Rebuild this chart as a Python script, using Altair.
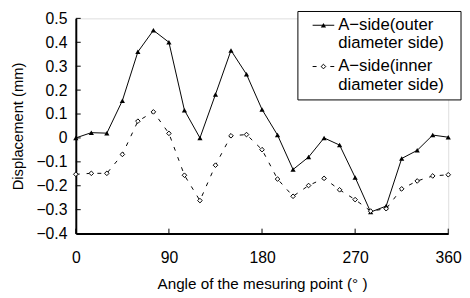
import altair as alt
import pandas as pd

angles = list(range(0, 361, 15))
outer = [0.0, 0.022, 0.02, 0.156, 0.36, 0.45, 0.40, 0.116, 0.0, 0.182, 0.366, 0.266, 0.119,
         0.012, -0.132, -0.08, 0.0, -0.03, -0.165, -0.31, -0.285, -0.086, -0.052, 0.012, 0.003]
inner = [-0.152, -0.148, -0.148, -0.069, 0.07, 0.109, 0.019, -0.156, -0.262, -0.114, 0.009, 0.014,
         -0.049, -0.172, -0.244, -0.199, -0.169, -0.217, -0.258, -0.306, -0.296, -0.213, -0.18, -0.159, -0.154]
x_ticks = [0, 90, 180, 270, 360]
y_ticks = [-0.4, -0.3, -0.2, -0.1, 0, 0.1, 0.2, 0.3, 0.4, 0.5]
series_names = ["A−side(outer\ndiameter side)", "A−side(inner\ndiameter side)"]

FONT = "Liberation Sans"
W, H = 379, 219

df = pd.DataFrame({"angle": angles, "outer": outer, "inner": inner})
xdf = pd.DataFrame({"t": x_ticks})
ydf = pd.DataFrame({"t": y_ticks})
one = pd.DataFrame({"k": [0]})

xs = alt.Scale(domain=[0, 360], nice=False, zero=False)
ys = alt.Scale(domain=[-0.4, 0.5], nice=False, zero=False)

xaxis = alt.Axis(values=x_ticks, grid=False, ticks=False, domainWidth=2, domainColor="black",
                 labelFont=FONT, labelFontSize=16, labelColor="black", labelPadding=16,
                 labelOverlap=False, labelFlush=False,
                 title="Angle of the mesuring point (°  )", titleFont=FONT, titleFontSize=15.5,
                 titleFontWeight="normal", titleColor="black", titlePadding=12)
yaxis = alt.Axis(values=y_ticks, grid=False, ticks=False, domainWidth=2, domainColor="black",
                 format="~g", labelFont=FONT, labelFontSize=16, labelColor="black", labelPadding=9,
                 labelOverlap=False, labelFlush=False,
                 title="Displacement (mm)", titleFont=FONT, titleFontSize=15,
                 titleFontWeight="normal", titleColor="black", titlePadding=11)

base = alt.Chart(df)
X = alt.X("angle:Q", scale=xs, axis=xaxis)
YO = alt.Y("outer:Q", scale=ys, axis=yaxis)
YI = alt.Y("inner:Q", scale=ys, axis=yaxis)

outer_line = base.mark_line(color="black", strokeWidth=1).encode(x=X, y=YO)
outer_pts = base.mark_point(shape="triangle-up", filled=True, color="black", size=28, opacity=1).encode(
    x=X, y=YO)
inner_line = base.mark_line(color="black", strokeWidth=1, strokeDash=[4, 7]).encode(x=X, y=YI)
inner_pts = base.mark_point(shape="diamond", filled=True, fill="white", stroke="black", strokeWidth=1,
                            size=22, opacity=1).encode(x=X, y=YI)

yt = alt.Chart(ydf).mark_rule(color="black", strokeWidth=1).encode(
    y=alt.Y("t:Q", scale=ys, axis=yaxis), x=alt.value(0), x2=alt.value(5))
xt = alt.Chart(xdf).mark_rule(color="black", strokeWidth=1).encode(
    x=alt.X("t:Q", scale=xs, axis=xaxis), y=alt.value(H), y2=alt.value(H - 5))

# legend (decoration)
LX0, LX1, LY0, LY1 = 226, 392, -7, 83
box = alt.Chart(one).mark_rect(fill="white", stroke="black", strokeWidth=1).encode(
    x=alt.value(LX0), x2=alt.value(LX1), y=alt.value(LY0), y2=alt.value(LY1))
leg1_line = alt.Chart(one).mark_rule(color="black", strokeWidth=1).encode(
    x=alt.value(241), x2=alt.value(263), y=alt.value(7))
leg1_pt = alt.Chart(one).mark_point(shape="triangle-up", filled=True, color="black", size=28, opacity=1).encode(
    x=alt.value(252), y=alt.value(7))
leg2_line = alt.Chart(one).mark_rule(color="black", strokeWidth=1, strokeDash=[4, 5]).encode(
    x=alt.value(241), x2=alt.value(263), y=alt.value(49))
leg2_pt = alt.Chart(one).mark_point(shape="diamond", filled=True, fill="white", stroke="black", strokeWidth=1,
                                    size=22, opacity=1).encode(x=alt.value(252), y=alt.value(49))
leg1_txt = alt.Chart(one).mark_text(text=series_names[0], lineBreak="\n", lineHeight=18.5, align="left",
                                    baseline="middle", font=FONT, fontSize=17, color="black").encode(
    x=alt.value(267), y=alt.value(7))
leg2_txt = alt.Chart(one).mark_text(text=series_names[1], lineBreak="\n", lineHeight=18.5, align="left",
                                    baseline="middle", font=FONT, fontSize=17, color="black").encode(
    x=alt.value(267), y=alt.value(49))

chart = alt.layer(
    outer_line, inner_line, outer_pts, inner_pts, yt, xt,
    box, leg1_line, leg1_pt, leg2_line, leg2_pt, leg1_txt, leg2_txt
).properties(
    width=W, height=H,
    autosize=alt.AutoSizeParams(type="none"),
    padding={"left": 69, "top": 8, "right": 14, "bottom": 63},
).configure_view(stroke="black", strokeWidth=1).configure(background="white")

chart.save("out.html", embed_options={"renderer": "svg", "actions": False})
